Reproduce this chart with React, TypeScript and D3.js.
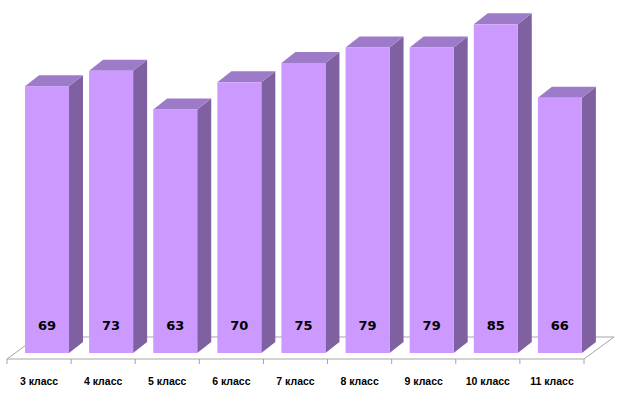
import React from "react";
import * as d3 from "d3";

const categories = ["3 класс", "4 класс", "5 класс", "6 класс", "7 класс", "8 класс", "9 класс", "10 класс", "11 класс"];
const values = [69, 73, 63, 70, 75, 79, 79, 85, 66];

const W = 618;
const H = 401;
const DX = 14;
const DY = 11;
const FRONT = "#CC99FF";
const SIDE = "#7F61A1";
const TOP = "#9D7BC9";

export default function App() {
  const x = d3.scaleBand<string>().domain(categories).range([7, 584]).paddingInner(0).paddingOuter(0);
  const y = d3.scaleLinear().domain([0, 85]).range([353, 24.3]);
  const bw = 44;
  const off = 18;
  const floorY = 359;
  const floorBackY = 337;
  const floorDX = 30;
  const x0 = x.range()[0];
  const x1 = x.range()[1];
  const floor = [
    [x0, floorY],
    [x1, floorY],
    [x1 + floorDX, floorBackY],
    [x0 + floorDX, floorBackY],
  ];
  const ticks = [...categories.map((c) => x(c) as number), x1];
  return (
    <svg width={W} height={H} style={{ position: "absolute", left: 0, top: 0, background: "#fff" }}>
      <polygon points={floor.map((p) => p.join(",")).join(" ")} fill="#fff" stroke="#A6A6A6" strokeWidth={1} />
      {ticks.map((t, i) => (
        <line key={i} x1={t} x2={t} y1={floorY} y2={floorY + 5} stroke="#A6A6A6" strokeWidth={1} />
      ))}
      {categories.map((c, i) => {
        const xl = (x(c) as number) + off;
        const xr = xl + bw;
        const yt = y(values[i]);
        const yb = y(0);
        const side = [
          [xr, yt],
          [xr + DX, yt - DY],
          [xr + DX, yb - DY],
          [xr, yb],
        ];
        const top = [
          [xl, yt],
          [xl + DX, yt - DY],
          [xr + DX, yt - DY],
          [xr, yt],
        ];
        return (
          <g key={c}>
            <polygon points={side.map((p) => p.join(",")).join(" ")} fill={SIDE} />
            <polygon points={top.map((p) => p.join(",")).join(" ")} fill={TOP} />
            <rect x={xl} y={yt} width={bw} height={yb - yt} fill={FRONT} />
            <text
              x={(xl + xr) / 2}
              y={330}
              textAnchor="middle"
              fontFamily="DejaVu Sans"
              fontWeight="bold"
              fontSize={13}
              fill="#000"
            >
              {values[i]}
            </text>
            <text
              x={(x(c) as number) + x.bandwidth() / 2}
              y={385}
              textAnchor="middle"
              fontFamily="Liberation Sans, Arial"
              fontWeight="bold"
              fontSize={10.5}
              fill="#000"
            >
              {c}
            </text>
          </g>
        );
      })}
    </svg>
  );
}
